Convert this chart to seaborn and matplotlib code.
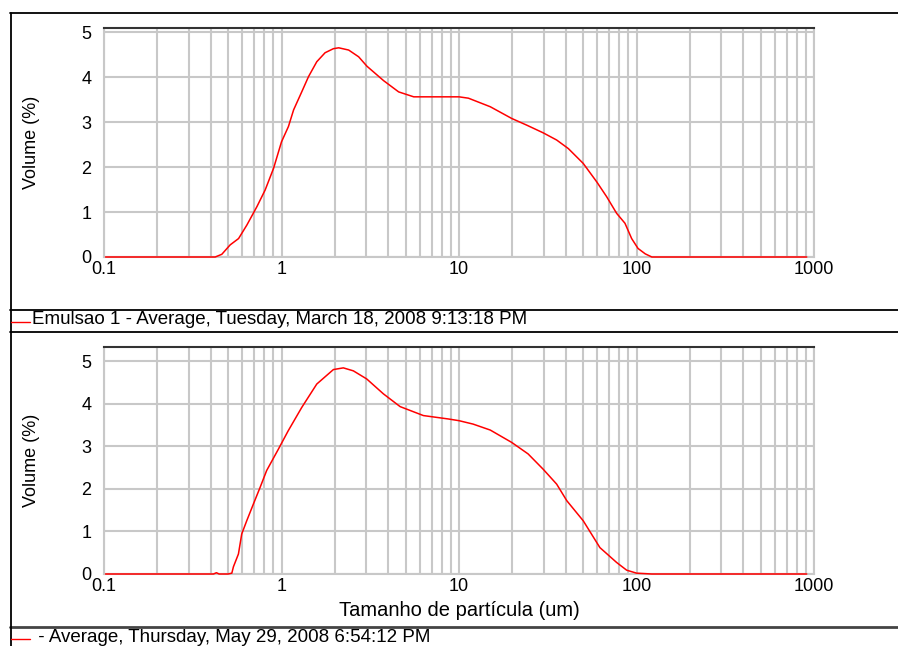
import matplotlib
matplotlib.use("Agg")
import matplotlib.pyplot as plt
from matplotlib.lines import Line2D
from matplotlib.ticker import LogLocator, NullFormatter, FixedLocator, FixedFormatter
import seaborn as sns
import pandas as pd

# ---- data ----
top_size = [0.102, 0.423, 0.461, 0.514, 0.573, 0.638, 0.727, 0.809, 0.902, 1.0, 1.094, 1.17,
            1.30, 1.42, 1.58, 1.76, 1.96, 2.10, 2.39, 2.72, 3.03, 3.76, 4.57, 5.56, 10.0, 11.3,
            15.0, 19.8, 24.1, 29.8, 35.5, 41.3, 50.1, 59.7, 67.9, 77.3, 86.1, 93.9, 102, 112, 122, 910]
top_vol = [0, 0, 0.06, 0.27, 0.41, 0.71, 1.12, 1.49, 1.97, 2.56, 2.90, 3.27,
           3.67, 4.01, 4.34, 4.54, 4.63, 4.65, 4.60, 4.45, 4.24, 3.92, 3.67, 3.56, 3.56, 3.53,
           3.34, 3.08, 2.93, 2.76, 2.60, 2.41, 2.08, 1.67, 1.34, 0.97, 0.75, 0.41, 0.19, 0.07, 0, 0]

bot_size = [0.102, 0.414, 0.43, 0.445, 0.50, 0.525, 0.536, 0.572, 0.597, 0.637, 0.694, 0.757,
            0.825, 0.96, 1.09, 1.30, 1.58, 1.96, 2.23, 2.54, 3.02, 3.75, 4.66, 6.30, 8.71, 10.0,
            12.0, 15.0, 19.8, 24.5, 29.8, 35.5, 40.5, 50.1, 62.2, 77.3, 88, 100, 122, 910]
bot_vol = [0, 0, 0.03, 0, 0, 0.02, 0.17, 0.47, 0.94, 1.25, 1.64, 2.03,
           2.43, 2.93, 3.36, 3.91, 4.46, 4.80, 4.84, 4.77, 4.58, 4.23, 3.93, 3.72, 3.64, 3.60,
           3.52, 3.38, 3.09, 2.82, 2.46, 2.11, 1.72, 1.25, 0.62, 0.27, 0.09, 0.02, 0, 0]

x_ticks = [0.1, 1, 10, 100, 1000]
x_labels = ["0.1", "1", "10", "100", "1000"]
y_ticks = [0, 1, 2, 3, 4, 5]

legend_top = "Emulsao 1 - Average, Tuesday, March 18, 2008 9:13:18 PM"
legend_bot = " - Average, Thursday, May 29, 2008 6:54:12 PM"
y_label = "Volume (%)"
x_label = "Tamanho de partícula (um)"

# ---- style ----
sns.set_style("white")
plt.rcParams['font.family'] = ['Liberation Sans', 'DejaVu Sans']
plt.rcParams['text.color'] = 'black'
plt.rcParams['axes.labelcolor'] = 'black'

W, H = 898, 646
fig = plt.figure(figsize=(W / 100, H / 100), dpi=100)

def fx(px):
    return px / W

def fy(py):
    return 1 - py / H

grid_c = "#c8c8c8"

def make_axes(top_px, bot_px, ytop, sizes, vols):
    ax = fig.add_axes([fx(104), fy(bot_px), fx(814) - fx(104), fy(top_px) - fy(bot_px)])
    df = pd.DataFrame({"size": sizes, "vol": vols})
    sns.lineplot(data=df, x="size", y="vol", ax=ax, color="#ff0000", lw=1.1, sort=False,
                 estimator=None)
    for ln in ax.lines:
        ln.set_clip_on(False)
        ln.set_zorder(5)
    ax.set_xscale("log")
    ax.set_xlim(0.1, 1000)
    ax.set_ylim(0, ytop)
    ax.xaxis.set_major_locator(FixedLocator(x_ticks))
    ax.xaxis.set_major_formatter(FixedFormatter(x_labels))
    ax.xaxis.set_minor_locator(LogLocator(base=10, subs=range(2, 10)))
    ax.xaxis.set_minor_formatter(NullFormatter())
    ax.set_yticks(y_ticks)
    ax.grid(True, which="both", axis="x", color=grid_c, lw=1.5)
    ax.grid(True, which="major", axis="y", color=grid_c, lw=1.5)
    ax.set_axisbelow(True)
    ax.tick_params(axis="both", which="both", length=0, labelsize=13, colors="black")
    ax.tick_params(axis="y", pad=9)
    ax.tick_params(axis="x", pad=3)
    for s in ["left", "right", "bottom"]:
        ax.spines[s].set_color(grid_c)
        ax.spines[s].set_linewidth(1.5)
    ax.spines["top"].set_color("#333333")
    ax.spines["top"].set_linewidth(1.5)
    ax.set_xlabel("")
    ax.set_ylabel(y_label, fontsize=13, labelpad=30)
    return ax

ax1 = make_axes(28, 257, 5.09, top_size, top_vol)
ax2 = make_axes(347, 574, 5.33, bot_size, bot_vol)
ax2.set_xlabel(x_label, fontsize=14.5, labelpad=4)

# ---- frame and legend lines ----
def hline(py, x0=10, x1=898, c="black", lw=1.3):
    fig.add_artist(Line2D([fx(x0), fx(x1)], [fy(py), fy(py)], color=c, lw=lw))

hline(12.5)
hline(310)
hline(332)
hline(627, c="#444444", lw=2)
fig.add_artist(Line2D([fx(10.5), fx(10.5)], [fy(12.5), fy(646)], color="black", lw=1.3))

# legend entries
fig.add_artist(Line2D([fx(11), fx(30)], [fy(322), fy(322)], color="#ff0000", lw=1.0))
fig.text(fx(32), fy(320), legend_top, fontsize=13.5, va="center", ha="left")
fig.add_artist(Line2D([fx(11), fx(30)], [fy(639), fy(639)], color="#ff0000", lw=1.0))
fig.text(fx(33), fy(637), legend_bot, fontsize=13.5, va="center", ha="left")

fig.savefig("out.png", dpi=100)
